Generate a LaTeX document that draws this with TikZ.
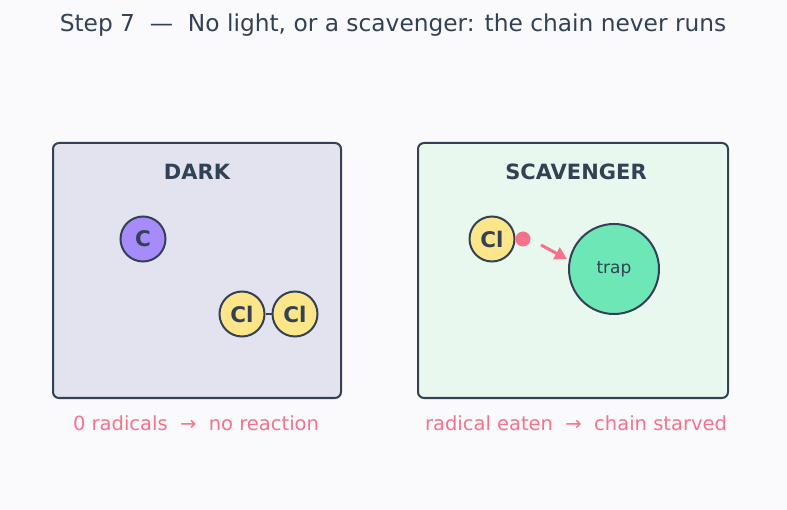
\documentclass[tikz,border=0pt]{standalone}
\usepackage{fontspec}
\setmainfont{DejaVu Sans}
\usetikzlibrary{arrows.meta}
\definecolor{bg}{HTML}{FAFAFD}
\definecolor{ink}{HTML}{334155}
\definecolor{darkfill}{HTML}{E2E3EE}
\definecolor{scavfill}{HTML}{E9F8EE}
\definecolor{cfill}{HTML}{A78BFA}
\definecolor{clfill}{HTML}{FDE68A}
\definecolor{trapfill}{HTML}{6EE7B7}
\definecolor{accent}{HTML}{F4728A}
\tikzset{
  panel/.style={draw=ink, line width=2pt, rounded corners=6pt},
  atom/.style={circle, draw=ink, line width=2pt, minimum size=45pt, inner sep=0pt, font=\fontsize{21.5}{21.5}\selectfont\bfseries, text=ink},
  paneltitle/.style={font=\fontsize{21}{21}\selectfont\bfseries, text=ink},
  caption/.style={font=\fontsize{19.5}{19.5}\selectfont, text=accent},
}
\begin{document}
\begin{tikzpicture}[x=1pt,y=-1pt]
\fill[bg] (0,0) rectangle (787,510);
\useasboundingbox (0,0) rectangle (787,510);
\node[font=\fontsize{23.3}{23.3}\selectfont, text=ink] (title) at (393,25) {Step 7\ \ —\ \ No light, or a scavenger: the chain never runs};
% left panel
\node[panel, fill=darkfill, minimum width=288pt, minimum height=255pt, anchor=north west] (dark) at (52,142) {};
\node[paneltitle] (darkt) at (197,172) {DARK};
\node[atom, fill=cfill] (c) at (143,239) {C};
\node[atom, fill=clfill] (cl1) at (242,314) {Cl};
\node[atom, fill=clfill] (cl2) at (295,314) {Cl};
\draw[ink, line width=2pt] (cl1) -- (cl2);
\node[caption] (cap1) at (196,423) {0 radicals\ \ →\ \ no reaction};
% right panel
\node[panel, fill=scavfill, minimum width=310pt, minimum height=255pt, anchor=north west] (scav) at (417,142) {};
\node[paneltitle] (scavt) at (576,172) {SCAVENGER};
\node[atom, fill=clfill] (cl3) at (492,239) {Cl};
\node[circle, fill=accent, minimum size=15pt, inner sep=0pt] (rad) at (523,239) {};
\node[circle, draw=ink, line width=2pt, fill=trapfill, minimum size=90pt, inner sep=0pt, font=\fontsize{17}{17}\selectfont, text=ink] (trap) at (614,269) {trap};
\coordinate (a0) at (541,245);
\coordinate (a1) at (567,259);
\draw[accent, line width=3pt, -{Triangle[length=12pt,width=13pt]}] (a0) -- (a1);
\node[caption] (cap2) at (576,423) {radical eaten\ \ →\ \ chain starved};
\end{tikzpicture}
\end{document}
